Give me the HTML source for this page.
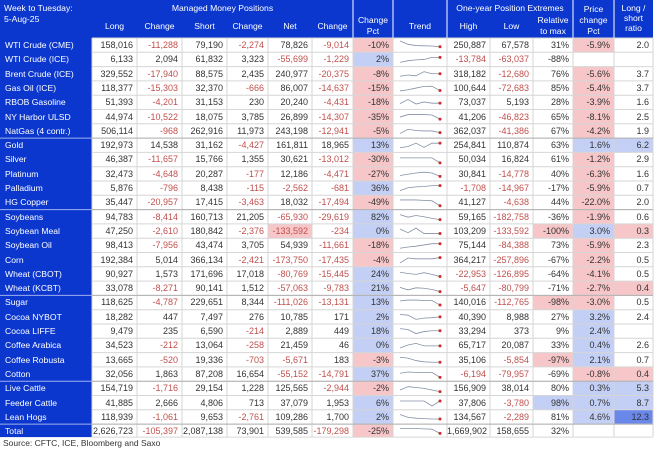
<!DOCTYPE html>
<html><head><meta charset="utf-8">
<style>
body{margin:0;background:#fff;width:657px;height:450px;overflow:hidden;font-family:"Liberation Sans",sans-serif;}
#wrap{position:relative;width:657px;height:450px;}
.c{position:absolute;font-size:9px;line-height:14px;white-space:nowrap;box-sizing:border-box;}
.h{color:#fff;font-size:8.6px;position:absolute;text-align:center;line-height:11px;}
</style></head><body>
<div id="wrap">
<svg id="svg" width="657" height="450" style="position:absolute;left:0;top:0"></svg>
<div class="c" style="left:3px;top:436px;color:#333;font-size:8.5px">Source: CFTC, ICE, Bloomberg and Saxo</div>
</div>
<script>
const names=["WTI Crude (CME)","WTI Crude (ICE)","Brent Crude (ICE)","Gas Oil (ICE)","RBOB Gasoline","NY Harbor ULSD","NatGas (4 contr.)","Gold","Silver","Platinum","Palladium","HG Copper","Soybeans","Soybean Meal","Soybean Oil","Corn","Wheat (CBOT)","Wheat (KCBT)","Sugar","Cocoa NYBOT","Cocoa LIFFE","Coffee Arabica","Coffee Robusta","Cotton","Live Cattle","Feeder Cattle","Lean Hogs","Total"];
const longPos=[158016,6133,329552,118377,51393,44974,506114,192973,46387,32473,5876,35447,94783,47250,98413,192384,90927,33078,118625,18282,9479,34523,13665,32056,154719,41885,118939,2626723];
const longChg=[-11288,2094,-17940,-15303,-4201,-10522,-968,14538,-11657,-4648,-796,-20957,-8414,-2610,-7956,5014,1573,-8271,-4787,447,235,-212,-520,1863,-1716,2666,-1061,-105397];
const shortPos=[79190,61832,88575,32370,31153,18075,262916,31162,15766,20287,8438,17415,160713,180842,43474,366134,171696,90141,229651,7497,6590,13064,19336,87208,29154,4806,9653,2087138];
const shortChg=[-2274,3323,2435,-666,230,3785,11973,-4427,1355,-177,-115,-3463,21205,-2376,3705,-2421,17018,1512,8344,276,-214,-258,-703,16654,1228,713,-2761,73901];
const netPos=[78826,-55699,240977,86007,20240,26899,243198,161811,30621,12186,-2562,18032,-65930,-133592,54939,-173750,-80769,-57063,-111026,10785,2889,21459,-5671,-55152,125565,37079,109286,539585];
const netChg=[-9014,-1229,-20375,-14637,-4431,-14307,-12941,18965,-13012,-4471,-681,-17494,-29619,-234,-11661,-17435,-15445,-9783,-13131,171,449,46,183,-14791,-2944,1953,1700,-179298];
const chgPct=[-10,2,-8,-15,-18,-35,-5,13,-30,-27,36,-49,82,0,-18,-4,24,21,13,2,18,0,-3,37,-2,6,2,-25];
const highPos=[250887,-13784,318182,100644,73037,41206,362037,254841,50034,30841,-1708,41127,59165,103209,75144,364217,-22953,-5647,140016,40390,33294,65717,35106,-6194,156909,37806,134567,1669902];
const lowPos=[67578,-63037,-12680,-72683,5193,-46823,-41386,110874,16824,-14778,-14967,-4638,-182758,-133592,-84388,-257896,-126895,-80799,-112765,8988,373,20087,-5854,-79957,38014,-3780,-2289,158655];
const relMax=[31,-88,76,85,28,65,67,63,61,40,-17,44,-36,-100,73,-67,-64,-71,-98,27,9,33,-97,-69,80,98,81,32];
const priceChg=[-5.9,null,-5.6,-5.4,-3.9,-8.1,-4.2,1.6,-1.2,-6.3,-5.9,-22.0,-1.9,3.0,-5.9,-2.2,-4.1,-2.7,-3.0,3.2,2.4,0.4,2.1,-0.8,0.3,0.7,4.6,null];
const lsRatio=[2.0,null,3.7,3.7,1.6,2.5,1.9,6.2,2.9,1.6,0.7,2.0,0.6,0.3,2.3,0.5,0.5,0.4,0.5,2.4,null,2.6,0.7,0.4,5.3,8.7,12.3,null];
const trends=[[1,.6,.45,.42,.4,.3],[.15,.35,.45,.5,.75,.75],[.2,.35,.25,.75,.5,.5],[.15,.3,.5,.7,.72,.2],[.35,.85,.3,.55,.4,.4],[.45,.75,.75,.75,.7,.2],[.2,.7,.55,.5,.5,.3],[.2,.35,.75,.25,.75,.75],[.7,.7,.7,.7,.7,.1],[.3,.45,.6,.7,.6,.2],[.2,.55,.65,.7,.8,.8],[.8,.8,.8,.75,.7,.1],[.75,.45,.65,.5,.3,.15],[.75,.3,.85,.2,.2,.2],[.15,.3,.4,.55,.7,.7],[.1,.7,.6,.6,.6,.75],[.7,.55,.45,.65,.45,.2],[.6,.3,.55,.5,.35,.1],[.7,.8,.8,.75,.75,.2],[.8,.7,.2,.35,.4,.5],[.8,.7,.2,.45,.55,.55],[.2,.55,.75,.45,.45,.45],[.8,.7,.4,.25,.2,.2],[.6,.75,.7,.7,.7,.1],[.3,.7,.6,.5,.3,.1],[.7,.7,.7,.7,.1,.7],[.8,.45,.35,.3,.25,.25],[.8,.8,.8,.75,.7,.1]];

const colX=[0,92,137,182,227,268,312,353,393,447,490,533,573,614,653];
const rowTop=i=>38+i*14.3;
const rowH=i=>i===27?13:14.3;
const NS="http://www.w3.org/2000/svg";
const svg=document.getElementById('svg');
const wrap=document.getElementById('wrap');
const BLUE="#0b37cf",PINK="#f6c6c8",LBLUE="#c3cff4",DBLUE="#6a87ea",RED="#c0504d",TXT="#333";
function rect(x,y,w,h,fill,name){const r=document.createElementNS(NS,'rect');r.setAttribute('x',x);r.setAttribute('y',y);r.setAttribute('width',w);r.setAttribute('height',h);r.setAttribute('fill',fill);


svg.appendChild(r);return r;}
function line(x1,y1,x2,y2,st,w){const l=document.createElementNS(NS,'line');l.setAttribute('x1',x1);l.setAttribute('y1',y1);l.setAttribute('x2',x2);l.setAttribute('y2',y2);l.setAttribute('stroke',st);l.setAttribute('stroke-width',w||1);


svg.appendChild(l);}
function fmt(v){if(v===null)return "";return (v<0?"-":"")+Math.abs(v).toLocaleString('en-US');}
function cell(txt,col,i,color,name){const d=document.createElement('div');d.className='c';d.style.left=colX[col]+'px';d.style.width=(colX[col+1]-colX[col])+'px';d.style.top=(rowTop(i))+'px';d.style.textAlign='right';d.style.paddingRight='4px';d.style.color=color;d.textContent=txt;


wrap.appendChild(d);}
rect(0,0,653,38,BLUE,'header-band');
rect(0,38,92,14.3*27+13,BLUE,'name-column');
const heads=[["Week to Tuesday:",4,3,'left',88],["5-Aug-25",4,14,'left',80],["Managed Money Positions",92,3,'center',261],
["Long",92,21,'center',45],["Change",137,21,'center',45],["Short",182,21,'center',45],["Change",227,21,'center',41],["Net",268,21,'center',44],["Change",312,21,'center',41],
["Change",353,15,'center',40],["Pct",353,26,'center',40],["Trend",393,21,'center',54],["One-year Position Extremes",447,3,'center',126],["High",447,21,'center',43],["Low",490,21,'center',43],["Relative",533,15,'center',40],["to max",533,26,'center',40],
["Price",573,4,'center',41],["change",573,15,'center',41],["Pct",573,26,'center',41],["Long /",614,3,'center',39],["short",614,13,'center',39],["ratio",614,23,'center',39]];
heads.forEach(h=>{const d=document.createElement('div');d.className='h';d.style.left=h[1]+'px';d.style.top=h[2]+'px';d.style.width=h[4]+'px';d.style.textAlign=h[3];d.textContent=h[0];


wrap.appendChild(d);});
[353,393,447,573,614].forEach(x=>line(x,0,x,38,'#fff',1));
for(let i=0;i<28;i++){const y=rowTop(i),h=rowH(i);
 rect(353,y,40,h,chgPct[i]<0?PINK:LBLUE,'change-pct-bg');
 if(priceChg[i]!==null)rect(573,y,41,h,priceChg[i]<0?PINK:LBLUE,'price-change-bg');
 if(relMax[i]<=-90)rect(533,y,40,h,PINK,'relative-bg');else if(relMax[i]>=90)rect(533,y,40,h,LBLUE,'relative-bg');
 if(lsRatio[i]!==null){if(lsRatio[i]<0.5)rect(614,y,39,h,PINK,'ratio-bg');else if(lsRatio[i]>10)rect(614,y,39,h,DBLUE,'ratio-bg');else if(lsRatio[i]>5)rect(614,y,39,h,LBLUE,'ratio-bg');}
 if(netPos[i]===lowPos[i])rect(268,y,44,h,PINK,'net-extreme-bg');
}
for(let i=0;i<=28;i++){const y=i<28?rowTop(i):rowTop(27)+13;line(92,y,653,y,'#d6d6d6',1);}
for(let c=1;c<colX.length;c++)line(colX[c],38,colX[c],rowTop(27)+13,'#d6d6d6',1);
[7,12,18,24,27].forEach(g=>line(0,rowTop(g),92,rowTop(g),'#9fb0ee',1));
[7,12,18,24,27].forEach(g=>line(92,rowTop(g),653,rowTop(g),'#b0b0b0',1));
const col=v=>v!==null&&v<0?RED:TXT;
for(let i=0;i<28;i++){
 const d=document.createElement('div');d.className='c';d.style.left='5px';d.style.top=rowTop(i)+'px';d.style.color='#fff';d.style.fontSize='8.6px';d.textContent=names[i];
 
 
 wrap.appendChild(d);
 cell(fmt(longPos[i]),1,i,col(longPos[i]),'long-value');
 cell(fmt(longChg[i]),2,i,col(longChg[i]),'long-change');
 cell(fmt(shortPos[i]),3,i,col(shortPos[i]),'short-value');
 cell(fmt(shortChg[i]),4,i,col(shortChg[i]),'short-change');
 cell(fmt(netPos[i]),5,i,col(netPos[i]),'net-value');
 cell(fmt(netChg[i]),6,i,col(netChg[i]),'net-change');
 cell(chgPct[i]+'%',7,i,TXT,'change-pct');
 cell(fmt(highPos[i]),9,i,col(highPos[i]),'high-value');
 cell(fmt(lowPos[i]),10,i,col(lowPos[i]),'low-value');
 cell(relMax[i]+'%',11,i,TXT,'relative-to-max');
 cell(priceChg[i]===null?'':priceChg[i].toFixed(1)+'%',12,i,TXT,'price-change');
 cell(lsRatio[i]===null?'':lsRatio[i].toFixed(1),13,i,TXT,'long-short-ratio');
 const t=trends[i],x0=400,x1=440,yt=rowTop(i)+3,yb=rowTop(i)+rowH(i)-3;
 const xs=k=>x0+k*(x1-x0)/(t.length-1),ys=v=>yb-v*(yb-yt);
 const p=document.createElementNS(NS,'polyline');
 p.setAttribute('points',t.map((v,k)=>xs(k)+','+ys(v)).join(' '));
 p.setAttribute('fill','none');p.setAttribute('stroke','#8690a6');p.setAttribute('stroke-width','0.8');
 
 
 svg.appendChild(p);
 const c=document.createElementNS(NS,'circle');c.setAttribute('cx',xs(t.length-1));c.setAttribute('cy',ys(t[t.length-1]));c.setAttribute('r',1.5);c.setAttribute('fill','#d02a2a');
 
 
 svg.appendChild(c);
}
</script>
</body></html>
